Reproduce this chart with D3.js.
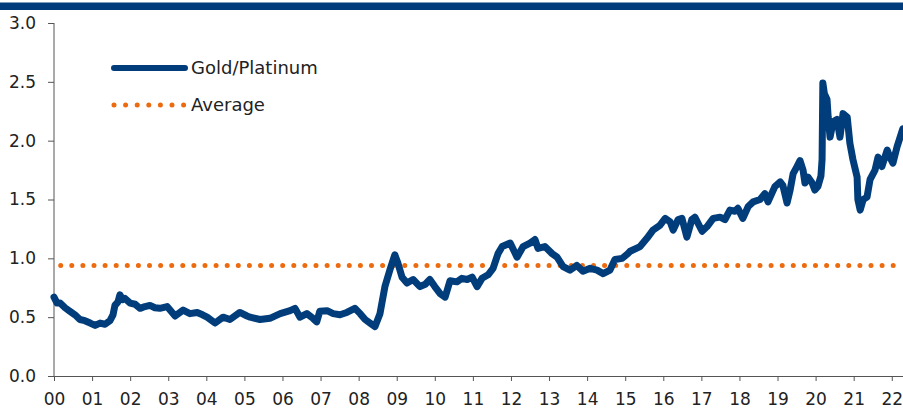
<!DOCTYPE html>
<html>
<head>
<meta charset="utf-8">
<script src="https://cdn.jsdelivr.net/npm/d3@7"></script>
<style>
  body { margin: 0; background: #fff; }
  text { font-family: "DejaVu Sans", sans-serif; fill: #222; }
</style>
</head>
<body>
<div id="chart"></div>
<script>
// decimal years and gold/platinum ratio
const years = [
  2000.00, 2000.08, 2000.16, 2000.29, 2000.42, 2000.55, 2000.68, 2000.81, 2000.95,
  2001.08, 2001.21, 2001.34, 2001.47, 2001.55, 2001.60, 2001.68, 2001.73, 2001.80, 2001.86,
  2002.00, 2002.13, 2002.26, 2002.39, 2002.52, 2002.65, 2002.78, 2002.97,
  2003.18, 2003.39, 2003.57, 2003.76, 2003.90,
  2004.02, 2004.23, 2004.44, 2004.62, 2004.88,
  2005.07, 2005.15, 2005.41, 2005.67, 2005.94,
  2006.20, 2006.33, 2006.46, 2006.64, 2006.80, 2006.90, 2006.98,
  2007.17, 2007.33, 2007.51, 2007.69, 2007.90,
  2008.04, 2008.17, 2008.30, 2008.43, 2008.56, 2008.69, 2008.82, 2008.95,
  2009.03, 2009.14, 2009.27, 2009.43, 2009.61, 2009.75, 2009.87,
  2010.00, 2010.14, 2010.27, 2010.40, 2010.58, 2010.71, 2010.85, 2010.98,
  2011.11, 2011.24, 2011.40, 2011.53, 2011.66, 2011.77, 2011.98,
  2012.16, 2012.32, 2012.50, 2012.63, 2012.71, 2012.89,
  2013.08, 2013.21, 2013.37, 2013.55, 2013.73, 2013.89,
  2014.08, 2014.26, 2014.42, 2014.60, 2014.73, 2014.92,
  2015.07, 2015.13, 2015.39, 2015.57, 2015.73, 2015.91,
  2016.05, 2016.18, 2016.26, 2016.39, 2016.49, 2016.62, 2016.75, 2016.83,
  2017.02, 2017.15, 2017.31, 2017.49, 2017.62, 2017.75, 2017.88, 2017.96,
  2018.09, 2018.23, 2018.36, 2018.54, 2018.67, 2018.75, 2018.93,
  2019.07, 2019.14, 2019.25, 2019.33, 2019.41, 2019.51, 2019.59, 2019.67, 2019.72, 2019.80, 2019.91, 2019.98,
  2020.06, 2020.14, 2020.17, 2020.19, 2020.23, 2020.30, 2020.33, 2020.38, 2020.46, 2020.56, 2020.64, 2020.72, 2020.83, 2020.90, 2020.98,
  2021.09, 2021.11, 2021.17, 2021.25, 2021.35, 2021.43, 2021.56, 2021.64, 2021.74, 2021.88, 2021.95,
  2022.03, 2022.14, 2022.22, 2022.29
]
const ratio = [
  0.67, 0.62, 0.62, 0.58, 0.55, 0.52, 0.48, 0.47, 0.45,
  0.43, 0.45, 0.44, 0.47, 0.52, 0.60, 0.63, 0.69, 0.65, 0.66,
  0.62, 0.61, 0.575, 0.59, 0.60, 0.58, 0.575, 0.59,
  0.51, 0.56, 0.53, 0.54, 0.52,
  0.50, 0.45, 0.50, 0.48, 0.54,
  0.51, 0.50, 0.48, 0.49, 0.53,
  0.555, 0.575, 0.50, 0.53, 0.49, 0.46, 0.55,
  0.555, 0.53, 0.52, 0.54, 0.575,
  0.53, 0.48, 0.45, 0.42, 0.53, 0.76, 0.90, 1.03,
  0.96, 0.84, 0.79, 0.82, 0.76, 0.78, 0.82,
  0.76, 0.70, 0.67, 0.81, 0.80, 0.83, 0.82, 0.84,
  0.76, 0.83, 0.86, 0.915, 1.04, 1.10, 1.13,
  1.01, 1.10, 1.13, 1.16, 1.085, 1.10,
  1.04, 1.01, 0.93, 0.90, 0.94, 0.89,
  0.915, 0.90, 0.87, 0.90, 0.99, 1.00,
  1.04, 1.06, 1.10, 1.17, 1.24, 1.28,
  1.34, 1.31, 1.24, 1.33, 1.34, 1.18, 1.33, 1.35,
  1.23, 1.27, 1.34, 1.35, 1.33, 1.41, 1.40, 1.425,
  1.34, 1.44, 1.48, 1.50, 1.55, 1.48, 1.61,
  1.65, 1.62, 1.47, 1.58, 1.72, 1.78, 1.83, 1.75, 1.64, 1.69, 1.64, 1.58,
  1.61, 1.70, 1.84, 2.49, 2.40, 2.35, 2.20, 2.03, 2.16, 2.18, 2.03, 2.23, 2.20, 1.98, 1.84,
  1.69, 1.50, 1.41, 1.50, 1.52, 1.67, 1.75, 1.86, 1.78, 1.92, 1.86,
  1.81, 1.95, 2.03, 2.10
]
const average = 0.94
const yTicks = [0, 0.5, 1.0, 1.5, 2.0, 2.5, 3.0]
const xTickYears = d3.range(2000, 2023)
const seriesNames = ["Gold/Platinum", "Average"]

const data = years.map((t, i) => ({ t: t, v: ratio[i] }))

// chart dimensions
const width = 903
const height = 410
const margin = { top: 23, right: 0, bottom: 34, left: 54 }

const blue = "#023d7b"
const orange = "#ec6b0f"
const axisColor = "#555"

const x = d3.scaleLinear()
  .domain([2000, 2022.295])
  .range([margin.left, width - margin.right])

const y = d3.scaleLinear()
  .domain([0, 3])
  .range([height - margin.bottom, margin.top])

const svg = d3.select("#chart")
  .append("svg")
  .attr("width", width)
  .attr("height", height)

// dark header band
svg.append("rect")
  .attr("x", 0)
  .attr("y", 2.5)
  .attr("width", width)
  .attr("height", 7.5)
  .attr("fill", "#003c7c")

// axes
const yAxis = svg.append("g")
  .attr("transform", `translate(${margin.left},0)`)
  .call(d3.axisLeft(y).tickValues(yTicks).tickFormat(d3.format(".1f")).tickSize(6).tickPadding(12))

const xAxis = svg.append("g")
  .attr("transform", `translate(0,${height - margin.bottom})`)
  .call(d3.axisBottom(x).tickValues(xTickYears).tickFormat(d => String(d - 2000).padStart(2, "0")).tickSize(5).tickPadding(12))

svg.selectAll(".domain, .tick line").attr("stroke", axisColor)
svg.selectAll(".tick text").attr("font-size", 17).attr("fill", "#222")
  .style("font-family", "DejaVu Sans, sans-serif")
yAxis.select(".domain").attr("d", `M0,${y(3)}V${y(0)}`)

// average dotted line
svg.append("line")
  .attr("x1", x.range()[0])
  .attr("x2", x.range()[1])
  .attr("y1", y(average))
  .attr("y2", y(average))
  .attr("stroke", orange)
  .attr("stroke-width", 5)
  .attr("stroke-linecap", "round")
  .attr("stroke-dasharray", "0 11.1")
  .attr("stroke-dashoffset", 4.4)

// ratio line
const line = d3.line()
  .x(d => x(d.t))
  .y(d => y(d.v))

svg.append("path")
  .datum(data)
  .attr("fill", "none")
  .attr("stroke", blue)
  .attr("stroke-width", 7)
  .attr("stroke-linejoin", "round")
  .attr("stroke-linecap", "round")
  .attr("d", line)

// legend
const legend = svg.append("g")
legend.append("line")
  .attr("x1", 114).attr("x2", 185)
  .attr("y1", 68).attr("y2", 68)
  .attr("stroke", blue)
  .attr("stroke-width", 6)
  .attr("stroke-linecap", "round")
legend.append("line")
  .attr("x1", 114).attr("x2", 184)
  .attr("y1", 105).attr("y2", 105)
  .attr("stroke", orange)
  .attr("stroke-width", 5)
  .attr("stroke-linecap", "round")
  .attr("stroke-dasharray", "0 11.6")
legend.selectAll("text")
  .data(seriesNames)
  .join("text")
    .attr("x", 191)
    .attr("y", (d, i) => 68 + i * 37)
    .attr("dy", "0.35em")
    .attr("font-size", 18)
    .text(d => d)
</script>
</body>
</html>
